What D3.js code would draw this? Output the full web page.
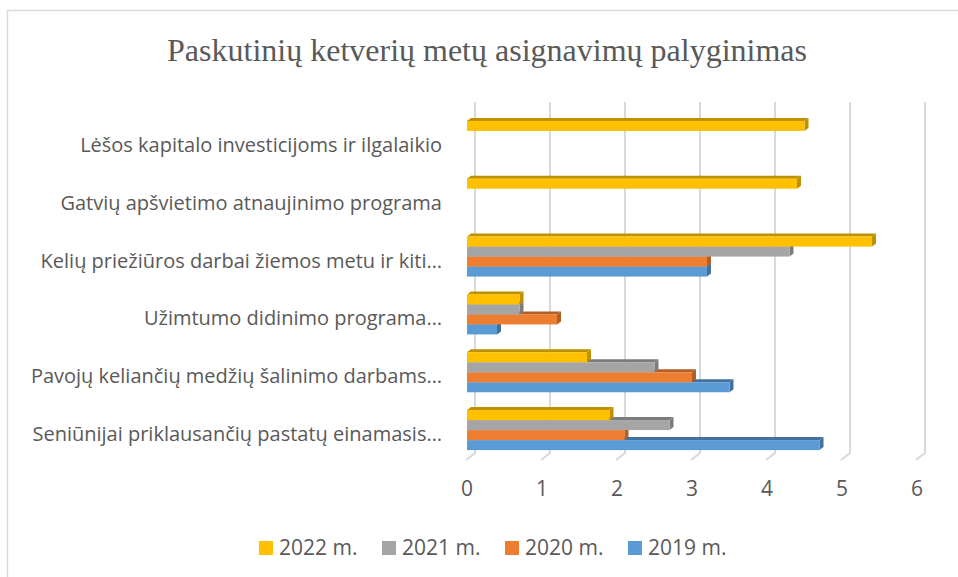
<!DOCTYPE html>
<meta charset="utf-8">
<style>
    body { margin: 0; background: #fff; }
    .title { font-family: "Liberation Serif", "Times New Roman", serif; fill: #595959; }
    .lbl { font-family: "Open Sans", sans-serif; fill: #595959; }
</style>
<body>
<svg></svg>
</body>
<script src="https://cdn.jsdelivr.net/npm/d3@7"></script>
<script>
    // categories top to bottom, as in the chart
    var categories = [
        "Lėšos kapitalo investicijoms ir ilgalaikio",
        "Gatvių apšvietimo atnaujinimo programa",
        "Kelių priežiūros darbai žiemos metu ir kiti…",
        "Užimtumo didinimo programa…",
        "Pavojų keliančių medžių šalinimo darbams…",
        "Seniūnijai priklausančių pastatų einamasis…"
    ];
    var seriesNames = ["2022 m.", "2021 m.", "2020 m.", "2019 m."];
    var values2022 = [4.5, 4.4, 5.4, 0.7, 1.6, 1.9];
    var values2021 = [0, 0, 4.3, 0.7, 2.5, 2.7];
    var values2020 = [0, 0, 3.2, 1.2, 3.0, 2.1];
    var values2019 = [0, 0, 3.2, 0.4, 3.5, 4.7];
    var xTicks = [0, 1, 2, 3, 4, 5, 6];

    var seriesValues = [values2022, values2021, values2020, values2019];
    var colors = ["#FFC000", "#A5A5A5", "#ED7D31", "#5B9BD5"];
    var darker = ["#BF9000", "#7C7C7C", "#B25E25", "#41719C"];

    var width = 958, height = 577;
    var svg = d3.select("svg").attr("width", width).attr("height", height);

    // chart frame (right and bottom edges run off the picture)
    svg.append("path")
        .attr("d", "M7.5," + height + "V10.5H" + width)
        .style("fill", "none")
        .style("stroke", "#d9d9d9")
        .style("stroke-width", 1.5);

    svg.append("text")
        .attr("class", "title")
        .attr("x", 487)
        .attr("y", 61)
        .attr("text-anchor", "middle")
        .style("font-size", "32px")
        .text("Paskutinių ketverių metų asignavimų palyginimas");

    var x = d3.scaleLinear().domain([0, 6]).range([467, 917]);
    var y = d3.scaleBand().domain(categories).range([112, 459])
        .paddingInner(0.308).paddingOuter(0.154);
    var ySub = d3.scaleBand().domain(seriesNames).range([0, y.bandwidth()]);

    // gridlines on the back wall, with the little floor foot
    var grid = svg.append("g");
    grid.selectAll("path")
        .data(xTicks)
        .enter().append("path")
        .attr("d", function (d) {
            return "M" + (x(d) + 8) + ",102V453L" + (x(d) - 1) + ",460";
        })
        .style("fill", "none")
        .style("stroke", "#d9d9d9")
        .style("stroke-width", 2);

    svg.append("g").selectAll("text")
        .data(xTicks)
        .enter().append("text")
        .attr("class", "lbl")
        .attr("x", function (d) { return x(d); })
        .attr("y", 489)
        .attr("dy", "0.35em")
        .attr("text-anchor", "middle")
        .style("font-size", "21px")
        .text(function (d) { return d; });

    svg.append("g").selectAll("text")
        .data(categories)
        .enter().append("text")
        .attr("class", "lbl")
        .attr("x", 442)
        .attr("y", function (d) { return y(d) + y.bandwidth() / 2 + 4; })
        .attr("dy", "0.35em")
        .attr("text-anchor", "end")
        .style("font-size", "20px")
        .text(function (d) { return d; });

    // 3D-looking bars: draw bottom series first so upper bars cover their top faces
    var dx = 4, dz = 3;
    var bars = svg.append("g");
    for (var s = seriesNames.length - 1; s >= 0; s--) {
        categories.forEach(function (c, i) {
            var v = seriesValues[s][i];
            if (!v) return;
            var x0 = x(0), x1 = x(v);
            var y0 = y(c) + ySub(seriesNames[s]);
            var h = ySub.bandwidth();
            var g = bars.append("g");
            g.append("path")
                .attr("d", "M" + x0 + "," + y0 + "L" + (x0 + dx) + "," + (y0 - dz) +
                    "H" + (x1 + dx) + "L" + x1 + "," + y0 + "Z")
                .style("fill", darker[s]);
            g.append("path")
                .attr("d", "M" + x1 + "," + y0 + "L" + (x1 + dx) + "," + (y0 - dz) +
                    "V" + (y0 + h - dz) + "L" + x1 + "," + (y0 + h) + "Z")
                .style("fill", darker[s]);
            g.append("rect")
                .attr("x", x0)
                .attr("y", y0)
                .attr("width", x1 - x0)
                .attr("height", h)
                .style("fill", colors[s]);
        });
    }

    // legend
    var legend = svg.append("g").selectAll("g")
        .data(seriesNames)
        .enter().append("g")
        .attr("transform", function (d, i) { return "translate(" + (259 + i * 123) + ",541)"; });
    legend.append("rect")
        .attr("width", 14)
        .attr("height", 14)
        .style("fill", function (d, i) { return colors[i]; });
    legend.append("text")
        .attr("class", "lbl")
        .attr("x", 20)
        .attr("y", 7)
        .attr("dy", "0.35em")
        .style("font-size", "21px")
        .text(function (d) { return d; });
</script>
</html>
